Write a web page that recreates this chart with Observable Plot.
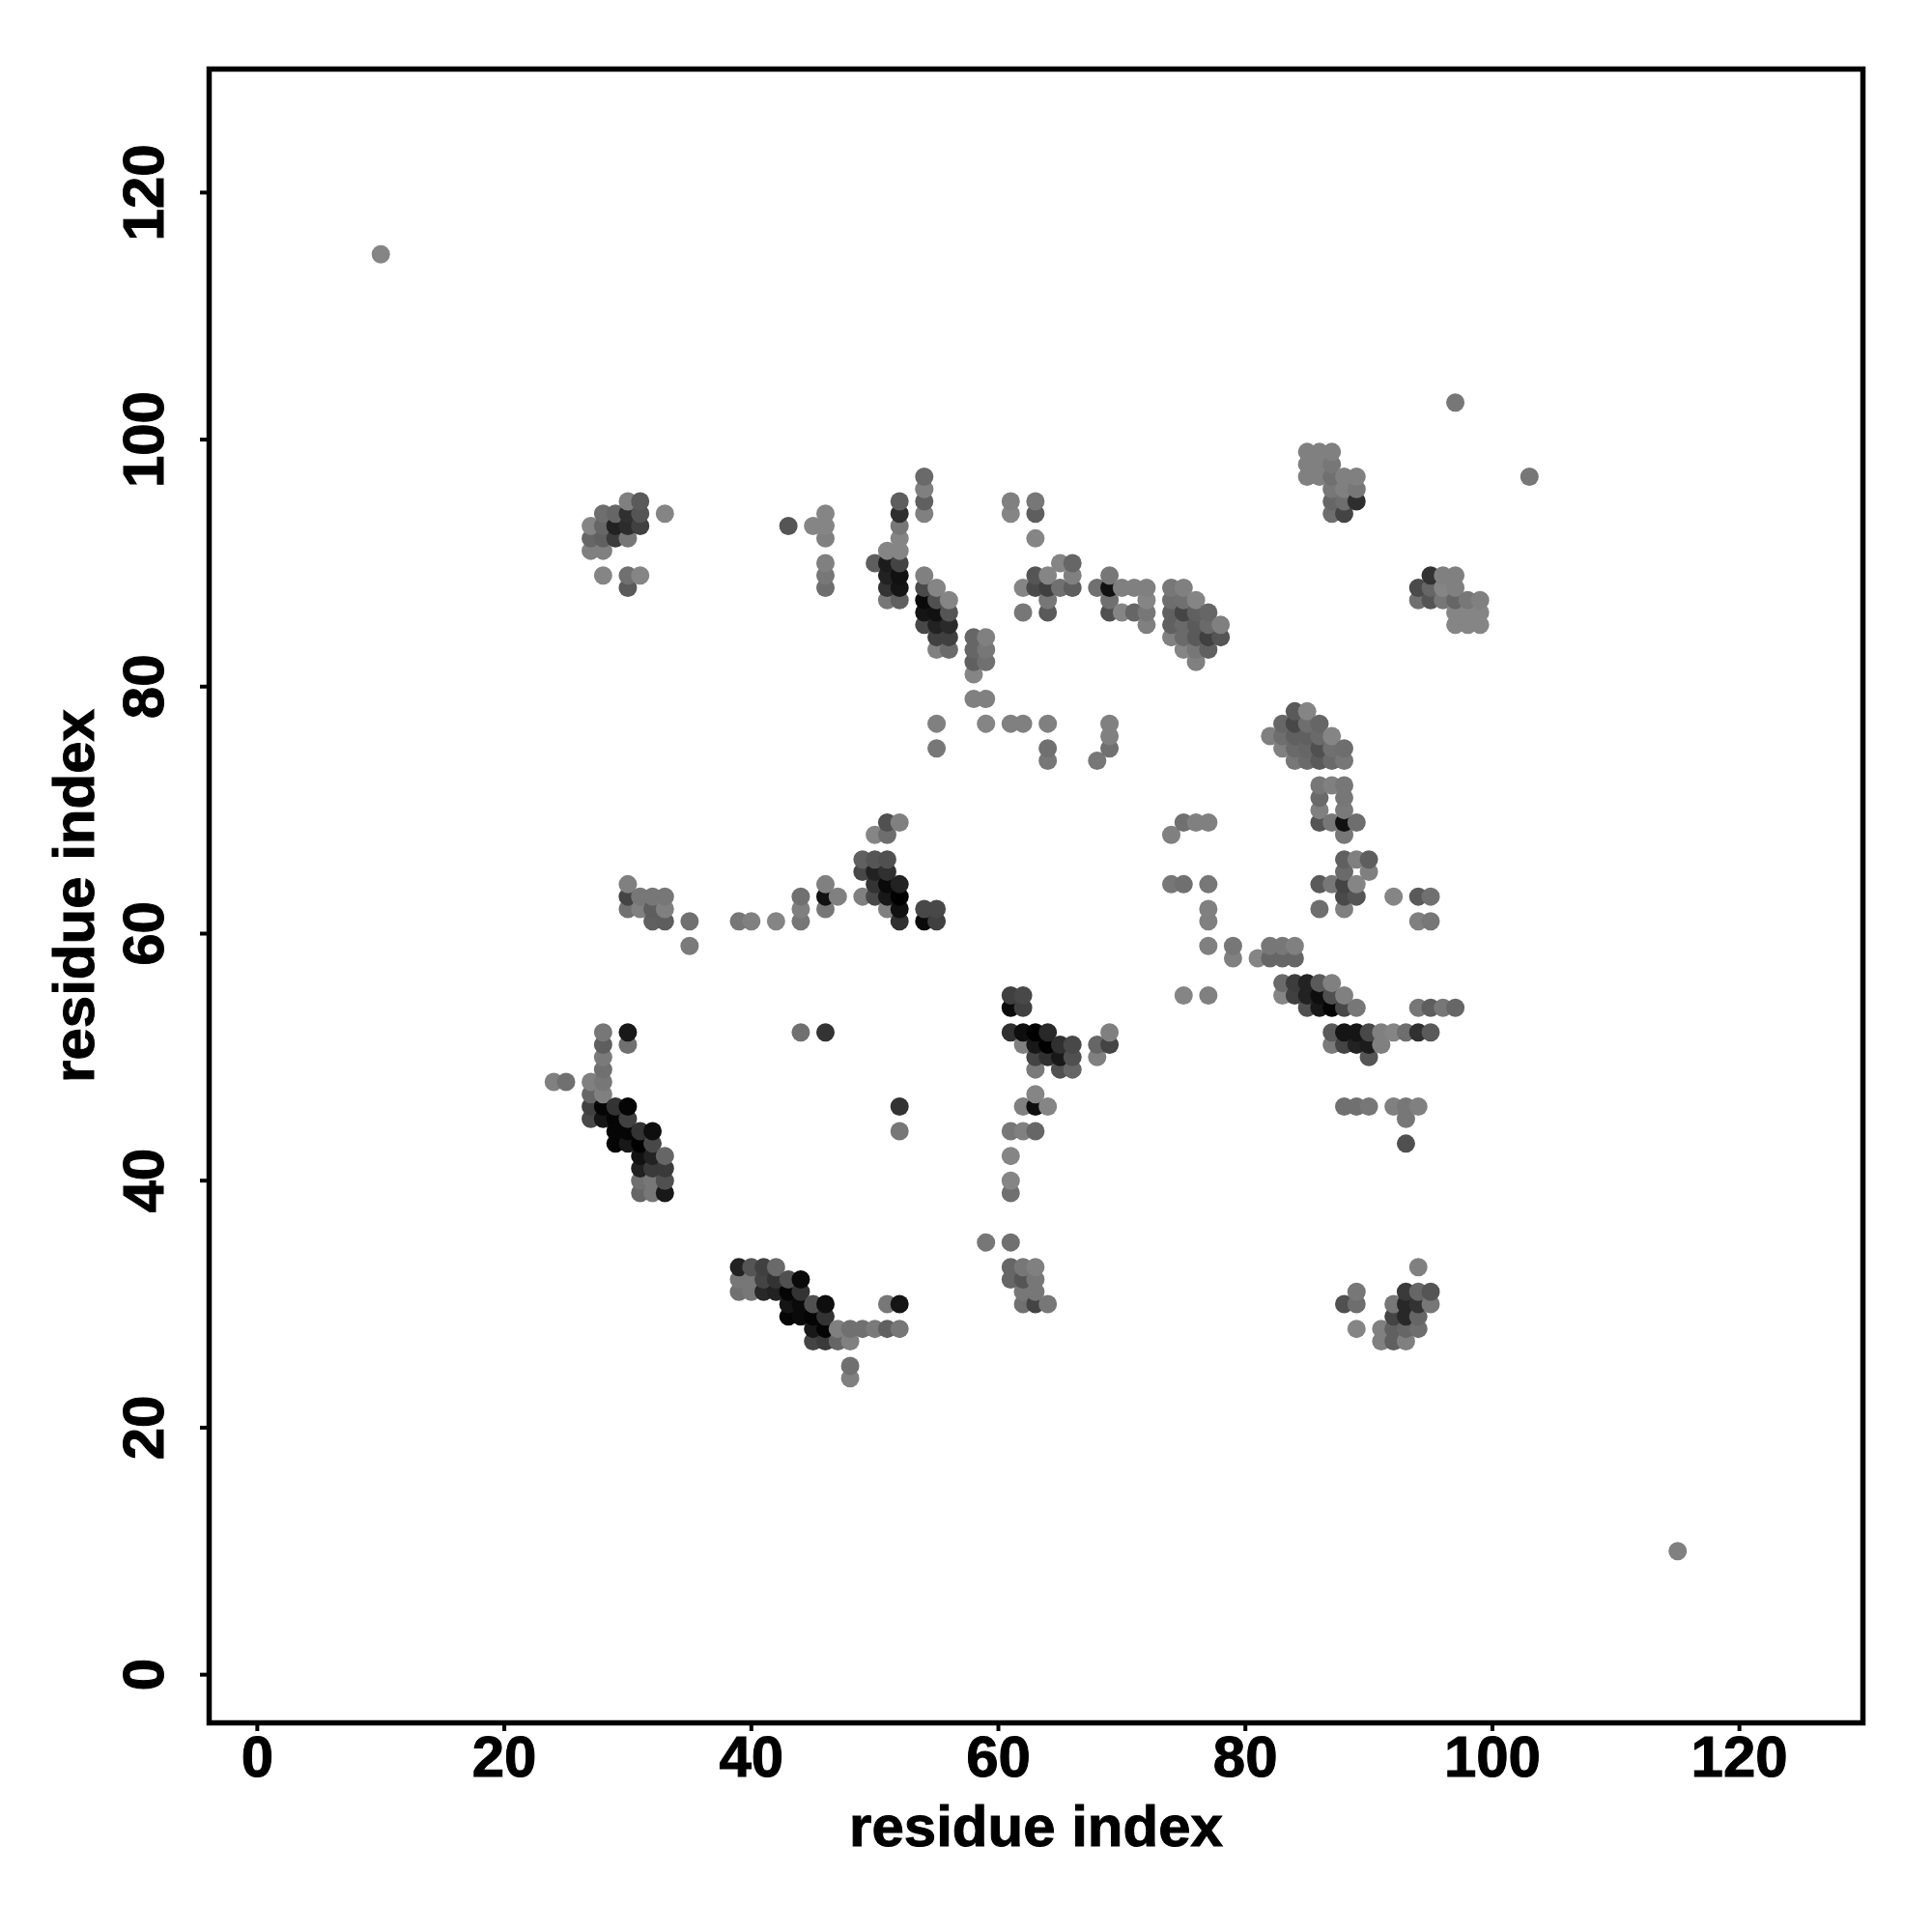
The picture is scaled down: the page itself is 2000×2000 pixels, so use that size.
<!DOCTYPE html>
<html><head><meta charset="utf-8">
<style>html,body{margin:0;padding:0;background:#fff}svg{display:block}svg text{stroke:#000;stroke-width:1px}</style>
<script src="https://cdn.jsdelivr.net/npm/d3@7"></script>
<script src="https://cdn.jsdelivr.net/npm/@observablehq/plot@0.6"></script>
</head><body><div id="chart"></div>
<script>
// contacts: [residue x, residue y, grey level 0-255]
const isolated = [[10,115,133],[97,103,119],[103,97,119],[115,10,128]];
const clusterA = [[30,95,128],[31,95,90],[28,94,110],[29,94,102],[30,94,48],[31,94,85],[33,94,133],
 [27,93,133],[28,93,102],[29,93,34],[30,93,44],[31,93,64],[27,92,102],[28,92,96],[29,92,60],[30,92,119],
 [27,91,128],[28,91,128],[28,89,133],[30,89,112],[31,89,133],[30,88,90]];
const clusterB = [[43,93,85],[45,93,133],[46,94,133],[46,93,133],[46,92,128],[46,90,128],[46,89,119],[46,88,110],
 [50,90,94],[51,91,133],[51,90,28],[51,89,34],[51,88,51],[51,87,119],
 [52,95,94],[52,94,46],[52,93,119],[52,92,133],[52,91,133],[52,90,68],[52,89,17],[52,88,21],[52,87,96]];
const clusterC = [[54,97,106],[54,96,128],[54,95,96],[54,94,128],[54,89,128],[54,88,74],[54,87,10],[54,86,21],[54,85,72],
 [55,88,133],[55,87,80],[55,86,17],[55,85,34],[55,84,64],[55,83,128],
 [56,87,133],[56,86,85],[56,85,42],[56,84,64],[56,83,106],
 [58,84,102],[58,83,102],[58,82,96],[58,81,133],[58,79,128],
 [59,84,128],[59,83,119],[59,82,112],[59,79,128],[59,77,133],
 [55,77,128],[55,75,119],[61,77,128],[62,77,128],[64,77,128],[64,75,112],[64,74,119],
 [68,74,119],[69,77,128],[69,76,128],[69,75,112]];
const clusterD = [[61,95,128],[61,94,133],[63,95,119],[63,94,94],[63,92,133],[65,90,133],
 [66,90,102],[66,89,128],[66,88,94],[62,88,133],[62,86,119],[63,89,85],[63,88,74],
 [64,89,133],[64,88,64],[64,87,119],[64,86,90],[65,88,112],
 [68,88,112],[69,89,119],[69,88,17],[69,87,112],[69,86,80],[70,88,128],[70,86,133],
 [71,88,128],[71,86,102],[72,88,128],[72,87,133],[72,86,119],[72,85,128]];
const clusterE = [[74,88,119],[74,87,110],[74,86,96],[74,85,96],[74,84,128],
 [75,88,128],[75,87,112],[75,86,69],[75,85,106],[75,84,106],[75,83,133],
 [76,87,133],[76,86,96],[76,85,90],[76,84,90],[76,83,119],[76,82,128],
 [77,86,102],[77,85,106],[77,84,64],[77,83,96],[78,85,128],[78,84,85]];
const clusterF = [[85,99,128],[85,98,128],[85,97,128],[86,99,128],[86,98,128],[86,97,128],
 [87,99,128],[87,98,119],[87,97,112],[87,96,119],[87,95,102],[87,94,110],
 [88,97,128],[88,96,128],[88,95,110],[88,94,68],[89,97,128],[89,96,119],[89,95,46]];
const clusterG = [[94,88,74],[94,87,112],[95,89,51],[95,88,102],[95,87,85],[96,89,128],[96,88,133],[96,87,119],
 [97,89,128],[97,88,128],[97,87,102],[97,86,133],[97,85,133],[98,87,119],[98,86,133],[98,85,133],
 [99,87,128],[99,86,133],[99,85,133]];
const clusterH = [[82,76,128],[83,77,102],[83,76,110],[83,75,128],
 [84,78,90],[84,77,72],[84,76,96],[84,75,106],[84,74,119],
 [85,78,133],[85,77,110],[85,76,96],[85,75,102],[85,74,106],
 [86,77,102],[86,76,106],[86,75,80],[86,74,90],[86,72,119],[86,71,106],[86,70,128],[86,69,85],
 [87,76,133],[87,75,112],[87,74,106],[87,72,128],[87,69,119],
 [88,75,110],[88,74,119],[88,72,119],[88,71,119],[88,70,122],[88,69,17],[88,68,119],[89,69,110]];
const clusterI = [[88,66,96],[88,65,106],[88,64,68],[88,63,74],[88,62,128],[89,66,128],[89,64,133],[89,63,85],
 [90,66,94],[90,65,128],[86,64,90],[86,62,110],[87,64,119],[92,63,133],[94,63,90],[94,61,128],[95,63,112],[95,61,119],
 [74,68,128],[75,69,112],[76,69,128],[77,69,128],[74,64,119],[75,64,112],[77,64,119],[77,62,128],[77,61,128],[77,59,128]];
const clusterJ = [[30,64,128],[30,63,68],[30,62,112],[31,63,119],[31,62,128],[32,63,119],[32,62,94],[32,61,96],
 [33,63,119],[33,62,128],[33,61,94],[35,61,112],[35,59,122],[39,61,119],[40,61,128],[42,61,133],
 [44,63,112],[44,62,128],[44,61,119],[46,64,128],[46,63,17],[46,62,119],[47,63,128]];
const clusterK = [[49,66,96],[49,65,72],[49,63,128],[50,68,133],[50,66,85],[50,65,34],[50,64,51],[50,63,72],
 [51,69,80],[51,68,110],[51,66,80],[51,65,48],[51,64,10],[51,63,24],[51,62,128],
 [52,69,128],[52,64,34],[52,63,0],[52,62,17],[52,61,48],[54,62,72],[54,61,10],[55,62,72],[55,61,64]];
const clusterL = [[79,59,119],[79,58,128],[81,58,133],[82,59,119],[82,58,102],[83,59,119],[83,58,102],[83,56,106],[83,55,133],
 [84,59,128],[84,58,102],[84,56,60],[84,55,64],[85,56,34],[85,55,34],[85,54,80],[86,56,90],[86,55,14],[86,54,24],
 [87,56,128],[87,55,80],[87,54,5],[88,55,128],[88,54,72],[89,54,119]];
const clusterM = [[87,52,90],[87,51,122],[88,52,21],[88,51,68],[89,52,21],[89,51,34],[90,52,72],[90,51,28],[90,50,85],
 [91,52,128],[91,51,128],[92,52,133],[93,52,110],[94,52,48],[95,52,90],
 [94,54,119],[95,54,94],[96,54,119],[97,54,102],
 [88,46,112],[89,46,112],[90,46,119],[92,46,128],[93,46,119],[94,46,128],[93,45,119],[93,43,80]];
const clusterN = [[24,48,128],[25,48,112],[27,48,128],[27,47,102],[27,46,64],[27,45,72],
 [28,52,119],[28,51,94],[28,50,122],[28,49,112],[28,48,119],[28,47,128],[28,46,5],[28,45,21],
 [29,46,51],[29,45,5],[29,44,5],[29,43,5],[30,52,24],[30,51,112],[30,46,5],[30,45,64],[30,44,5],[30,43,24],
 [31,44,51],[31,43,0],[31,42,17],[31,41,32],[31,40,112],[31,39,102],
 [32,44,14],[32,43,72],[32,42,34],[32,41,58],[32,40,119],[32,39,119],
 [33,42,102],[33,41,58],[33,40,80],[33,39,24]];
const clusterO = [[44,52,112],[46,52,51],[52,46,51],[52,44,119],
 [61,55,64],[61,54,10],[61,52,48],[61,44,119],[61,42,133],[61,40,133],[61,39,112],
 [62,55,72],[62,54,64],[62,52,14],[62,51,128],[62,46,128],[62,44,128],
 [63,52,0],[63,51,24],[63,50,68],[63,49,122],[63,47,133],[63,46,14],[63,44,102],
 [64,52,40],[64,51,0],[64,50,48],[64,46,133],[65,51,48],[65,50,24],[65,49,80],
 [66,51,72],[66,50,80],[66,49,102],[68,51,102],[68,50,128],[69,52,128],[69,51,68],[75,55,133],[77,55,128]];
const clusterP = [[39,33,34],[39,32,119],[39,31,112],[40,33,85],[40,32,119],[40,31,119],[41,33,64],[41,32,68],[41,31,40],
 [42,33,106],[42,32,51],[42,31,34],[43,32,80],[43,31,5],[43,30,21],[43,29,5],
 [44,32,10],[44,31,51],[44,30,10],[44,29,10],[45,30,80],[45,29,5],[45,28,24],[45,27,68],
 [46,30,14],[46,29,51],[46,28,5],[46,27,58],[47,28,128],[47,27,102],[48,28,112],[48,27,128],[48,25,112],[48,24,128],
 [49,28,112],[50,28,122],[51,30,119],[51,28,96],[52,30,21],[52,28,119]];
const clusterQ = [[88,30,80],[89,31,119],[89,30,110],[89,28,133],[91,28,128],[91,27,128],
 [92,30,119],[92,29,68],[92,28,96],[92,27,96],[93,31,58],[93,30,40],[93,29,40],[93,28,102],[93,27,128],
 [94,33,128],[94,31,102],[94,30,51],[94,29,102],[94,28,110],[95,31,85],[95,30,119]];
const clusterR = [[59,35,119],[61,35,112],[61,33,102],[61,32,102],[62,33,119],[62,32,85],[62,31,119],[62,30,112],
 [63,33,128],[63,32,119],[63,31,119],[63,30,68],[64,30,119]];

const axisTicks = [0,20,40,60,80,100,120];
const axisLabel = "residue index";

const contacts = d3.sort(
  [...isolated,...clusterA,...clusterB,...clusterC,...clusterD,...clusterE,...clusterF,...clusterG,...clusterH,
   ...clusterI,...clusterJ,...clusterK,...clusterL,...clusterM,...clusterN,...clusterO,...clusterP,...clusterQ,...clusterR],
  d => d[0], d => d[1]);

const chart = Plot.plot({
  width: 2000, height: 2000,
  marginLeft: 216, marginRight: 72, marginTop: 71, marginBottom: 217,
  style: {fontFamily: "'Liberation Sans', Arial, sans-serif", fontWeight: "bold", fontSize: "60px", color: "#000", background: "#fff"},
  x: {domain: [-3.9, 130]},
  y: {domain: [-3.9, 130]},
  marks: [
    Plot.dot(contacts, {x: d => d[0], y: d => d[1], fill: d => d3.rgb(d[2], d[2], d[2]).formatHex(), r: 9.5, stroke: "none"}),
    Plot.frame({stroke: "#000", strokeWidth: 5.5}),
    Plot.axisX({ticks: axisTicks, tickSize: 9, tickPadding: 3.5, strokeWidth: 4, label: axisLabel, labelAnchor: "center", labelArrow: "none", labelOffset: 127, fontSize: 60}),
    Plot.axisY({ticks: axisTicks, tickSize: 9, tickPadding: 38.5, strokeWidth: 4, tickRotate: -90, label: axisLabel, labelAnchor: "center", labelArrow: "none", labelOffset: 162, fontSize: 60})
  ]
});
document.getElementById("chart").appendChild(chart);
</script></body></html>
